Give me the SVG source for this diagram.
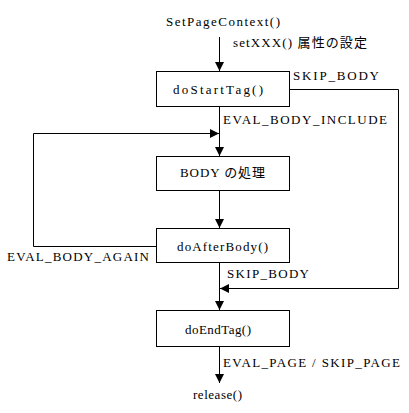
<svg xmlns="http://www.w3.org/2000/svg" width="409" height="413" viewBox="0 0 409 413">
<style>
.box{fill:#fff;stroke:#000;stroke-width:1}
.ln{fill:none;stroke:#000;stroke-width:1}
.t{font-family:"Liberation Serif","Noto Sans CJK JP",serif;font-size:13px;fill:#000}
</style>
<defs>
<marker id="ah" viewBox="0 0 10 10" refX="10" refY="5" markerWidth="10" markerHeight="9" markerUnits="userSpaceOnUse" orient="auto">
<path d="M0,0 L10,5 L0,10 Z" fill="#000"/>
</marker>
</defs>
<rect width="409" height="413" fill="#fff"/>
<g id="connectors">
<path class="ln" d="M219.5,37 V71" marker-end="url(#ah)"/>
<path class="ln" d="M219.5,107 V156" marker-end="url(#ah)"/>
<path class="ln" d="M219.5,191 V228" marker-end="url(#ah)"/>
<path class="ln" d="M219.5,263 V310" marker-end="url(#ah)"/>
<path class="ln" d="M219.5,347 V383" marker-end="url(#ah)"/>
<path class="ln" d="M290,89.5 H398.5 V288.5 H220" marker-end="url(#ah)"/>
<path class="ln" d="M157,246.5 H33.5 V133.5 H219" marker-end="url(#ah)"/>
<text class="t" x="233" y="47" textLength="134" lengthAdjust="spacing">setXXX() 属性の設定</text>
<text class="t" x="293" y="80" textLength="86" lengthAdjust="spacing">SKIP_BODY</text>
<text class="t" x="223" y="124" textLength="164" lengthAdjust="spacing">EVAL_BODY_INCLUDE</text>
<text class="t" x="7" y="261" textLength="142" lengthAdjust="spacing">EVAL_BODY_AGAIN</text>
<text class="t" x="227" y="278" textLength="82" lengthAdjust="spacing">SKIP_BODY</text>
<text class="t" x="223" y="367" textLength="177" lengthAdjust="spacing">EVAL_PAGE / SKIP_PAGE</text>
</g>
<g id="start">
<text class="t" x="166" y="26" textLength="114" lengthAdjust="spacing">SetPageContext()</text>
</g>
<g id="doStartTag">
<rect class="box" x="156.5" y="71.5" width="133" height="35"/>
<text class="t" x="173" y="94" textLength="90" lengthAdjust="spacing">doStartTag()</text>
</g>
<g id="body">
<rect class="box" x="156.5" y="156.5" width="133" height="34"/>
<text class="t" x="180" y="177" textLength="85" lengthAdjust="spacing">BODY の処理</text>
</g>
<g id="doAfterBody">
<rect class="box" x="156.5" y="228.5" width="133" height="34"/>
<text class="t" x="177" y="251" textLength="91" lengthAdjust="spacing">doAfterBody()</text>
</g>
<g id="doEndTag">
<rect class="box" x="156.5" y="310.5" width="133" height="36"/>
<text class="t" x="185" y="334" textLength="66" lengthAdjust="spacing">doEndTag()</text>
</g>
<g id="release">
<text class="t" x="193" y="399" textLength="49" lengthAdjust="spacing">release()</text>
</g>
</svg>
